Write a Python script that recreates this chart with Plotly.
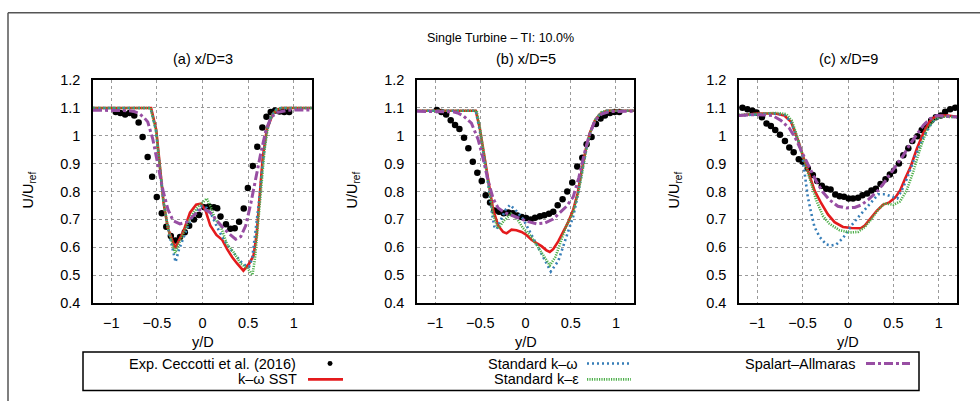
import plotly.graph_objects as go

W, H = 980, 409
FONT = "Liberation Sans, Arial, Helvetica, sans-serif"

# ---------------- data ----------------
# (a) x/D = 3
exp_a_y = [-0.951, -0.90, -0.848, -0.80, -0.748, -0.70, -0.656, -0.601, -0.552, -0.501, -0.446, -0.397, -0.347,
           -0.297, -0.246, -0.194, -0.146, -0.094, -0.039, 0.020, 0.072, 0.124, 0.161, 0.197, 0.257, 0.305,
           0.353, 0.401, 0.452, 0.497, 0.552, 0.600, 0.656, 0.701, 0.748, 0.796, 0.845, 0.896, 0.95]
exp_a_u = [1.085, 1.082, 1.076, 1.082, 1.073, 1.048, 0.996, 0.924, 0.853, 0.780, 0.722, 0.674, 0.640,
           0.624, 0.637, 0.654, 0.677, 0.700, 0.716, 0.744, 0.746, 0.744, 0.740, 0.710, 0.683, 0.666,
           0.668, 0.692, 0.739, 0.813, 0.892, 0.961, 1.030, 1.068, 1.085, 1.091, 1.087, 1.085, 1.085]

sst_a_y = [-1.2, -0.6, -0.563, -0.507, -0.47, -0.426, -0.378, -0.30, -0.211, -0.137, -0.07, -0.019, 0.03,
           0.085, 0.152, 0.215, 0.27, 0.326, 0.381, 0.448, 0.511, 0.559, 0.593, 0.622, 0.659, 0.704, 0.77,
           0.826, 0.87, 1.2]
sst_a_u = [1.10, 1.10, 1.10, 1.021, 0.895, 0.758, 0.667, 0.597, 0.655, 0.724, 0.753, 0.756, 0.735,
           0.678, 0.644, 0.627, 0.593, 0.564, 0.541, 0.516, 0.541, 0.570, 0.644, 0.758, 0.918, 1.021, 1.078,
           1.095, 1.10, 1.10]

kw_a_y = [-1.2, -0.57, -0.51, -0.47, -0.43, -0.38, -0.33, -0.295, -0.26, -0.211, -0.137, -0.063, -0.007,
          0.048, 0.104, 0.159, 0.233, 0.307, 0.381, 0.43, 0.47, 0.51, 0.545, 0.585, 0.622, 0.66, 0.70,
          0.755, 0.81, 0.86, 1.2]
kw_a_u = [1.10, 1.10, 1.02, 0.90, 0.77, 0.67, 0.59, 0.547, 0.59, 0.633, 0.695, 0.73, 0.747,
          0.741, 0.713, 0.673, 0.627, 0.593, 0.564, 0.545, 0.535, 0.53, 0.56, 0.66, 0.77, 0.90, 1.01,
          1.07, 1.095, 1.10, 1.10]

ke_a_y = [-1.2, -0.57, -0.51, -0.47, -0.43, -0.38, -0.30, -0.25, -0.20, -0.13, -0.05, 0.02, 0.048, 0.09,
          0.14, 0.196, 0.27, 0.344, 0.419, 0.493, 0.548, 0.575, 0.605, 0.64, 0.68, 0.72, 0.77, 0.82, 0.87, 1.2]
ke_a_u = [1.10, 1.10, 1.02, 0.90, 0.77, 0.67, 0.58, 0.62, 0.655, 0.71, 0.745, 0.765, 0.775, 0.745,
          0.70, 0.678, 0.61, 0.581, 0.541, 0.524, 0.501, 0.56, 0.68, 0.80, 0.95, 1.04, 1.08, 1.095, 1.10, 1.10]

sa_a_y = [-1.2, -0.80, -0.75, -0.693, -0.64, -0.6, -0.544, -0.489, -0.433, -0.378, -0.322, -0.248, -0.174,
          -0.1, -0.026, 0.03, 0.085, 0.159, 0.233, 0.307, 0.363, 0.419, 0.474, 0.53, 0.585, 0.641, 0.696,
          0.752, 0.826, 0.937, 1.2]
sa_a_u = [1.092, 1.09, 1.087, 1.08, 1.065, 1.05, 0.987, 0.895, 0.804, 0.735, 0.695, 0.684, 0.69,
          0.713, 0.735, 0.735, 0.724, 0.695, 0.667, 0.644, 0.629, 0.638, 0.678, 0.758, 0.85, 0.941, 1.021,
          1.067, 1.084, 1.092, 1.093]

# (b) x/D = 5
exp_b_y = [-0.981, -0.93, -0.878, -0.827, -0.779, -0.731, -0.68, -0.632, -0.583, -0.533, -0.484, -0.44,
           -0.392, -0.345, -0.293, -0.241, -0.19, -0.141, -0.09, -0.042, 0.006, 0.057, 0.105, 0.16, 0.208,
           0.26, 0.307, 0.356, 0.41, 0.462, 0.517, 0.572, 0.628, 0.676, 0.731, 0.779, 0.83, 0.878, 0.934,
           0.985, 1.037]
exp_b_u = [1.093, 1.085, 1.076, 1.056, 1.039, 1.024, 0.993, 0.955, 0.907, 0.867, 0.838, 0.787,
           0.761, 0.732, 0.727, 0.722, 0.725, 0.722, 0.714, 0.709, 0.705, 0.700, 0.706, 0.711, 0.715,
           0.720, 0.727, 0.751, 0.772, 0.800, 0.832, 0.890, 0.921, 0.970, 0.996, 1.042, 1.062, 1.073, 1.082,
           1.085, 1.085]

sst_b_y = [-1.2, -0.55, -0.506, -0.45, -0.402, -0.358, -0.303, -0.247, -0.21, -0.155, -0.1, -0.044, 0.011,
           0.066, 0.122, 0.177, 0.232, 0.269, 0.306, 0.362, 0.417, 0.472, 0.528, 0.576, 0.62, 0.668, 0.712,
           0.768, 0.823, 0.897, 1.2]
sst_b_u = [1.09, 1.09, 1.027, 0.918, 0.815, 0.735, 0.678, 0.655, 0.65, 0.663, 0.661, 0.655, 0.644,
           0.627, 0.615, 0.604, 0.589, 0.583, 0.593, 0.621, 0.655, 0.69, 0.735, 0.793, 0.873, 0.953, 1.01,
           1.055, 1.078, 1.09, 1.09]

kw_b_y = [-1.2, -0.55, -0.506, -0.45, -0.40, -0.37, -0.345, -0.32, -0.27, -0.22, -0.171, -0.097, -0.024,
          0.05, 0.124, 0.197, 0.28, 0.363, 0.436, 0.528, 0.58, 0.625, 0.67, 0.715, 0.77, 0.83, 0.90, 1.2]
kw_b_u = [1.09, 1.09, 1.02, 0.91, 0.80, 0.72, 0.675, 0.665, 0.70, 0.735, 0.752, 0.729, 0.70,
          0.654, 0.608, 0.562, 0.513, 0.551, 0.62, 0.711, 0.79, 0.87, 0.95, 1.01, 1.055, 1.08, 1.09, 1.09]

ke_b_y = [-1.2, -0.54, -0.50, -0.45, -0.40, -0.36, -0.303, -0.24, -0.16, -0.10, -0.03, 0.048, 0.12, 0.20,
          0.269, 0.33, 0.40, 0.454, 0.52, 0.58, 0.63, 0.675, 0.72, 0.775, 0.84, 0.9, 1.2]
ke_b_u = [1.09, 1.09, 1.02, 0.91, 0.80, 0.72, 0.667, 0.695, 0.72, 0.705, 0.67, 0.644, 0.61, 0.57,
          0.535, 0.565, 0.63, 0.678, 0.72, 0.79, 0.875, 0.955, 1.015, 1.06, 1.085, 1.09, 1.09]

sa_b_y = [-1.2, -0.80, -0.75, -0.69, -0.598, -0.524, -0.469, -0.413, -0.358, -0.303, -0.229, -0.137, -0.063,
          0.03, 0.122, 0.214, 0.306, 0.38, 0.454, 0.528, 0.59, 0.646, 0.701, 0.768, 0.841, 0.934, 1.2]
sa_b_u = [1.088, 1.086, 1.082, 1.072, 1.045, 0.987, 0.918, 0.838, 0.775, 0.741, 0.724, 0.713, 0.703,
          0.692, 0.684, 0.687, 0.701, 0.724, 0.747, 0.781, 0.85, 0.93, 0.998, 1.055, 1.078, 1.087, 1.088]

# (c) x/D = 9
exp_c_y = [-1.162, -1.107, -1.052, -1.007, -0.948, -0.897, -0.849, -0.801, -0.749, -0.694, -0.646, -0.598,
           -0.542, -0.498, -0.443, -0.387, -0.339, -0.288, -0.24, -0.192, -0.14, -0.092, -0.044, 0.007, 0.055,
           0.111, 0.159, 0.21, 0.258, 0.306, 0.358, 0.413, 0.461, 0.506, 0.561, 0.609, 0.664, 0.708, 0.764,
           0.812, 0.867, 0.915, 0.967, 1.022, 1.07, 1.125, 1.18]
exp_c_u = [1.101, 1.095, 1.09, 1.084, 1.067, 1.044, 1.035, 1.021, 1.004, 0.981, 0.958, 0.941,
           0.916, 0.907, 0.884, 0.859, 0.838, 0.821, 0.81, 0.807, 0.789, 0.783, 0.781, 0.775, 0.775,
           0.778, 0.787, 0.793, 0.804, 0.81, 0.827, 0.844, 0.861, 0.875, 0.901, 0.93, 0.955, 0.981, 0.998,
           1.021, 1.038, 1.055, 1.067, 1.073, 1.086, 1.095, 1.101]

sst_c_y = [-1.2, -1.0, -0.8, -0.701, -0.627, -0.553, -0.498, -0.443, -0.369, -0.295, -0.221, -0.148, -0.055,
           0.037, 0.10, 0.14, 0.185, 0.24, 0.314, 0.387, 0.45, 0.524, 0.575, 0.627, 0.69, 0.76, 0.83, 0.90,
           0.95, 1.022, 1.1, 1.2]
sst_c_u = [1.073, 1.08, 1.08, 1.073, 1.05, 0.987, 0.93, 0.873, 0.804, 0.758, 0.718, 0.69, 0.673,
           0.669, 0.667, 0.668, 0.678, 0.701, 0.73, 0.753, 0.76, 0.78, 0.805, 0.845, 0.89, 0.955, 1.01, 1.052,
           1.066, 1.073, 1.073, 1.068]

kw_c_y = [-1.2, -0.8, -0.70, -0.627, -0.553, -0.50, -0.48, -0.443, -0.406, -0.369, -0.314, -0.24, -0.185,
          -0.129, -0.055, 0.037, 0.111, 0.185, 0.258, 0.332, 0.41, 0.48, 0.543, 0.60, 0.653, 0.745, 0.83,
          0.93, 1.02, 1.2]
kw_c_u = [1.073, 1.08, 1.075, 1.05, 0.987, 0.925, 0.873, 0.781, 0.724, 0.673, 0.638, 0.61, 0.606,
          0.61, 0.633, 0.678, 0.707, 0.735, 0.764, 0.79, 0.79, 0.781, 0.775, 0.81, 0.85, 0.93, 0.995,
          1.05, 1.07, 1.067]

ke_c_y = [-1.2, -0.8, -0.68, -0.62, -0.572, -0.498, -0.42, -0.351, -0.277, -0.203, -0.092, 0.018, 0.111,
          0.185, 0.258, 0.332, 0.406, 0.498, 0.572, 0.646, 0.72, 0.793, 0.867, 0.941, 1.015, 1.2]
ke_c_u = [1.075, 1.082, 1.078, 1.055, 1.01, 0.93, 0.85, 0.77, 0.713, 0.684, 0.661, 0.653, 0.655,
          0.673, 0.701, 0.735, 0.758, 0.752, 0.764, 0.804, 0.873, 0.953, 1.021, 1.055, 1.069, 1.067]

sa_c_y = [-1.2, -1.015, -0.83, -0.738, -0.646, -0.572, -0.498, -0.424, -0.351, -0.277, -0.203, -0.111,
          -0.018, 0.074, 0.148, 0.221, 0.314, 0.387, 0.461, 0.535, 0.609, 0.683, 0.756, 0.83, 0.904, 0.978, 1.2]
sa_c_u = [1.073, 1.076, 1.073, 1.055, 1.027, 0.987, 0.935, 0.884, 0.838, 0.798, 0.77, 0.747,
          0.741, 0.743, 0.752, 0.77, 0.798, 0.827, 0.861, 0.895, 0.93, 0.97, 1.004, 1.038, 1.061, 1.073, 1.067]

panel_titles = ["(a) x/D=3", "(b) x/D=5", "(c) x/D=9"]
main_title = "Single Turbine \u2013 TI: 10.0%"
legend_names = ["Exp. Ceccotti et al. (2016)", "k\u2013\u03c9 SST", "Standard k\u2013\u03c9",
                "Standard k\u2013\u03b5", "Spalart\u2013Allmaras"]
x_ticks = [-1, -0.5, 0, 0.5, 1]
y_ticks = [0.4, 0.5, 0.6, 0.7, 0.8, 0.9, 1.0, 1.1, 1.2]

panels = [
    (exp_a_y, exp_a_u, sst_a_y, sst_a_u, kw_a_y, kw_a_u, ke_a_y, ke_a_u, sa_a_y, sa_a_u),
    (exp_b_y, exp_b_u, sst_b_y, sst_b_u, kw_b_y, kw_b_u, ke_b_y, ke_b_u, sa_b_y, sa_b_u),
    (exp_c_y, exp_c_u, sst_c_y, sst_c_u, kw_c_y, kw_c_u, ke_c_y, ke_c_u, sa_c_y, sa_c_u),
]

# ---------------- styling ----------------
RED, BLUE, GREEN, PURPLE = "#e41a1c", "#377eb8", "#4daf4a", "#984ea3"
STYLES = {
    "sst": dict(color=RED, width=2.6, dash="solid"),
    "kw": dict(color=BLUE, width=2.6, dash="2px,3px"),
    "ke": dict(color=GREEN, width=2.6, dash="1.2px,1.2px"),
    "sa": dict(color=PURPLE, width=3, dash="9px,3px,3px,3px"),
}

# plot-area boxes in pixels: (left, right)
boxes_x = [(93, 312), (417, 634), (739, 957)]
box_top, box_bottom = 75, 307


def px(x):
    return x / W


def py(y):
    return 1 - y / H


fig = go.Figure()
layout = dict(
    width=W, height=H, margin=dict(l=0, r=0, t=0, b=0), autosize=False,
    paper_bgcolor="white", plot_bgcolor="white", showlegend=False,
    font=dict(family=FONT, size=14, color="black"),
)
annotations = []
shapes = []

for i, (data, (x0, x1)) in enumerate(zip(panels, boxes_x)):
    sfx = "" if i == 0 else str(i + 1)
    xa, ya = "x" + sfx, "y" + sfx
    ey, eu, sy, su, wy, wu, ky, ku, ay, au = data
    fig.add_trace(go.Scatter(x=ey, y=eu, mode="markers", xaxis=xa, yaxis=ya,
                             marker=dict(color="black", size=6.5), name=legend_names[0]))
    fig.add_trace(go.Scatter(x=sy, y=su, mode="lines", xaxis=xa, yaxis=ya,
                             line=STYLES["sst"], name=legend_names[1]))
    fig.add_trace(go.Scatter(x=wy, y=wu, mode="lines", xaxis=xa, yaxis=ya,
                             line=STYLES["kw"], name=legend_names[2]))
    fig.add_trace(go.Scatter(x=ky, y=ku, mode="lines", xaxis=xa, yaxis=ya,
                             line=STYLES["ke"], name=legend_names[3]))
    fig.add_trace(go.Scatter(x=ay, y=au, mode="lines", xaxis=xa, yaxis=ya,
                             line=STYLES["sa"], name=legend_names[4]))

    layout["xaxis" + sfx] = dict(
        domain=[px(x0), px(x1)], anchor=ya, range=[-1.2, 1.2],
        tickvals=x_ticks, ticks="", showline=True, mirror=True, linecolor="black", linewidth=1.6,
        showgrid=True, gridcolor="#9a9a9a", griddash="dot", gridwidth=1, zeroline=False,
        tickfont=dict(family=FONT, size=14.5), ticklabelstandoff=6,
    )
    layout["yaxis" + sfx] = dict(
        domain=[py(box_bottom), py(box_top)], anchor=xa, range=[0.4, 1.2],
        tickvals=y_ticks, ticks="", showline=True, mirror=True, linecolor="black", linewidth=1.6,
        showgrid=True, gridcolor="#9a9a9a", griddash="dot", gridwidth=1, zeroline=False,
        tickfont=dict(family=FONT, size=14.5), ticklabelstandoff=8,
    )
    cx = (x0 + x1) / 2
    annotations.append(dict(text=panel_titles[i], x=px(cx), y=py(53), xref="paper", yref="paper",
                            showarrow=False, xanchor="center", yanchor="middle",
                            font=dict(family=FONT, size=14.5)))
    annotations.append(dict(text="y/D", x=px(cx), y=py(348), xref="paper", yref="paper",
                            showarrow=False, xanchor="center", yanchor="middle",
                            font=dict(family=FONT, size=14.5)))
    annotations.append(dict(text="U/U<sub>ref</sub>", x=px(x0 - 64), y=py(190), xref="paper", yref="paper",
                            showarrow=False, xanchor="center", yanchor="middle", textangle=-90,
                            font=dict(family=FONT, size=14.5)))

annotations.append(dict(text=main_title, x=px(500), y=py(31), xref="paper", yref="paper",
                        showarrow=False, xanchor="center", yanchor="middle",
                        font=dict(family=FONT, size=12.5)))

# outer frame (top and left edges visible)
shapes.append(dict(type="line", xref="paper", yref="paper", x0=px(8), x1=1.0, y0=py(5), y1=py(5),
                   line=dict(color="#555555", width=1.5)))
shapes.append(dict(type="line", xref="paper", yref="paper", x0=px(8), x1=px(8), y0=py(5), y1=0,
                   line=dict(color="#555555", width=1.5)))

# key box
shapes.append(dict(type="rect", xref="paper", yref="paper", x0=px(83), x1=px(919), y0=py(398), y1=py(358),
                   line=dict(color="black", width=1.5), fillcolor="white"))
row1, row2 = 370.0, 386.5
key_font = dict(family=FONT, size=14.5)
key_entries = [
    (legend_names[0], 297, row1, "dot", 320, 340),
    (legend_names[1], 298, row2, "sst", 308, 343),
    (legend_names[2], 579, row1, "kw", 587, 631),
    (legend_names[3], 580, row2, "ke", 587, 631),
    (legend_names[4], 856, row1, "sa", 866, 910),
]
for text, tx, ty, kind, s0, s1 in key_entries:
    annotations.append(dict(text=text, x=px(tx), y=py(ty), xref="paper", yref="paper", showarrow=False,
                            xanchor="right", yanchor="middle", font=key_font, borderpad=0))
    if kind == "dot":
        c = (s0 + s1) / 2
        shapes.append(dict(type="circle", xref="paper", yref="paper", x0=px(c - 2.5), x1=px(c + 2.5),
                           y0=py(ty + 2.5), y1=py(ty - 2.5), fillcolor="black", line=dict(width=0)))
    else:
        st = STYLES[kind]
        shapes.append(dict(type="line", xref="paper", yref="paper", x0=px(s0), x1=px(s1), y0=py(ty), y1=py(ty),
                           line=dict(color=st["color"], width=st["width"], dash=st["dash"])))

layout["annotations"] = annotations
layout["shapes"] = shapes
fig.update_layout(**layout)

fig.write_html("out.html")
